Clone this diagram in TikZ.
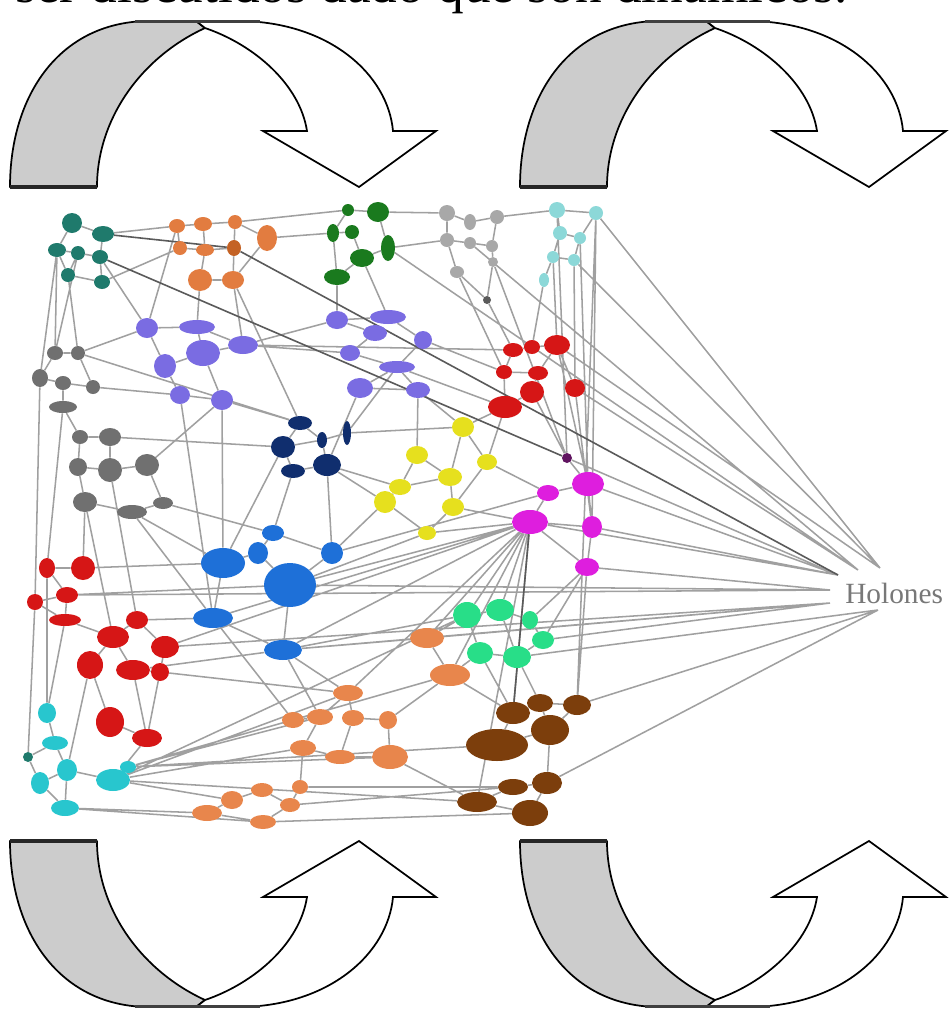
\documentclass[tikz,border=0pt]{standalone}
\usepackage{fontspec}
\setmainfont{Liberation Serif}
\usetikzlibrary{shapes.geometric}

% cluster colours
\definecolor{ctealdark}{RGB}{31,122,108}
\definecolor{corangeA}{RGB}{226,124,64}
\definecolor{corangeD}{RGB}{196,98,36}
\definecolor{cpurple}{RGB}{122,108,226}
\definecolor{cgreydark}{RGB}{112,112,112}
\definecolor{cnavy}{RGB}{16,46,110}
\definecolor{cgreendark}{RGB}{26,122,30}
\definecolor{cgreylight}{RGB}{168,168,168}
\definecolor{ccyanlight}{RGB}{140,216,216}
\definecolor{cred}{RGB}{214,22,22}
\definecolor{cyellow}{RGB}{230,224,30}
\definecolor{cmagenta}{RGB}{222,30,222}
\definecolor{cmagdark}{RGB}{96,20,96}
\definecolor{cblue}{RGB}{30,112,216}
\definecolor{ccyan}{RGB}{40,198,206}
\definecolor{corangeB}{RGB}{232,134,76}
\definecolor{cgreenbright}{RGB}{40,222,136}
\definecolor{cbrown}{RGB}{124,62,12}
\definecolor{cedge}{RGB}{160,160,160}
\definecolor{cedgedark}{RGB}{90,90,90}
\definecolor{cband}{RGB}{204,204,204}
\definecolor{clabel}{RGB}{120,120,120}

\pgfdeclarelayer{paper}
\pgfdeclarelayer{links}
\pgfsetlayers{paper,links,main}

\tikzset{
  v/.style n args={2}{ellipse, inner sep=0pt, draw=none,
    minimum width=#1*0.75pt, minimum height=#2*0.75pt},
  tl/.style={fill=ctealdark},
  oa/.style={fill=corangeA},
  od/.style={fill=corangeD},
  pu/.style={fill=cpurple},
  gd/.style={fill=cgreydark},
  nv/.style={fill=cnavy},
  gn/.style={fill=cgreendark},
  gl/.style={fill=cgreylight},
  cl/.style={fill=ccyanlight},
  rd/.style={fill=cred},
  ye/.style={fill=cyellow},
  mg/.style={fill=cmagenta},
  bl/.style={fill=cblue},
  cy/.style={fill=ccyan},
  ob/.style={fill=corangeB},
  gb/.style={fill=cgreenbright},
  bw/.style={fill=cbrown},
  ed/.style={draw=cedge, line width=1.15pt},
  eddark/.style={draw=cedgedark, line width=1.2pt},
  band/.style={fill=cband, draw=black, line width=1.3pt, line join=round},
  face/.style={fill=white, draw=black, line width=1.3pt, line join=miter},
}

\begin{document}
\begin{tikzpicture}[x=0.75pt, y=-0.75pt]
\useasboundingbox (0,0) rectangle (952,1011);
\clip (0,0) rectangle (952,1011);
\begin{pgfonlayer}{paper}
  \fill[white] (0,0) rectangle (952,1011);
\end{pgfonlayer}

% caption line running off the top edge
\node[anchor=base west, inner sep=0pt, font=\fontsize{40}{44}\selectfont] (caption) at (15,2) {ser discutidos dado que son dinámicos.};

% ---------- turning arrows ----------
\foreach \dx/\flip in {0/0, 510/0, 0/1, 510/1} {
  \begin{scope}[shift={(\dx,\flip*1028)}, yscale={1-2*\flip}]
    \path[band] (10,187) .. controls (10,95) and (60,21) .. (150,21)
      -- (196,21) -- (205,28) .. controls (140,58) and (97,120) .. (97,187) -- cycle;
    \path[face] (196,21) -- (240,21) .. controls (330,22) and (388,75) .. (393,131)
      -- (436,131) -- (359,187) -- (263,131) -- (307,131)
      .. controls (300,85) and (255,45) .. (205,28) -- cycle;
    \draw[line width=2.6pt, draw=black!85] (10,187) -- (97,187);
    \draw[line width=2.2pt, draw=black!75] (135,21.5) -- (260,21.5);
  \end{scope}
}

% ---------- network nodes ----------
% teal
\node[tl,v={20}{20}] (t1) at (72,223) {};
\node[tl,v={22}{16}] (t2) at (103,234) {};
\node[tl,v={18}{14}] (t3) at (57,250) {};
\node[tl,v={14}{14}] (t4) at (78,253) {};
\node[tl,v={16}{14}] (t5) at (100,257) {};
\node[tl,v={14}{14}] (t6) at (68,275) {};
\node[tl,v={16}{14}] (t7) at (102,282) {};
% orange, top
\node[oa,v={16}{14}] (o1) at (177,226) {};
\node[oa,v={18}{14}] (o2) at (203,224) {};
\node[oa,v={14}{14}] (o3) at (235,222) {};
\node[oa,v={20}{26}] (o4) at (267,238) {};
\node[oa,v={14}{14}] (o5) at (180,248) {};
\node[oa,v={18}{12}] (o6) at (205,250) {};
\node[od,v={14}{16}] (o7) at (234,248) {};
\node[oa,v={24}{22}] (o8) at (200,280) {};
\node[oa,v={22}{18}] (o9) at (233,280) {};
% purple
\node[pu,v={22}{20}] (p1) at (147,328) {};
\node[pu,v={36}{14}] (p2) at (197,327) {};
\node[pu,v={34}{26}] (p3) at (203,353) {};
\node[pu,v={30}{18}] (p4) at (243,345) {};
\node[pu,v={22}{24}] (p5) at (165,366) {};
\node[pu,v={20}{18}] (p6) at (180,395) {};
\node[pu,v={22}{20}] (p7) at (222,400) {};
\node[pu,v={22}{18}] (p8) at (337,320) {};
\node[pu,v={36}{14}] (p9) at (388,317) {};
\node[pu,v={24}{16}] (p10) at (375,333) {};
\node[pu,v={18}{18}] (p11) at (423,340) {};
\node[pu,v={20}{16}] (p12) at (350,353) {};
\node[pu,v={36}{12}] (p13) at (397,367) {};
\node[pu,v={26}{20}] (p14) at (360,388) {};
\node[pu,v={24}{16}] (p15) at (418,390) {};
% dark grey
\node[gd,v={16}{14}] (g1) at (55,353) {};
\node[gd,v={14}{14}] (g2) at (78,353) {};
\node[gd,v={16}{18}] (g3) at (40,378) {};
\node[gd,v={16}{14}] (g4) at (63,383) {};
\node[gd,v={14}{14}] (g5) at (93,387) {};
\node[gd,v={28}{12}] (g6) at (63,407) {};
\node[gd,v={16}{14}] (g7) at (80,437) {};
\node[gd,v={22}{18}] (g8) at (110,437) {};
\node[gd,v={18}{18}] (g9) at (78,467) {};
\node[gd,v={24}{24}] (g10) at (110,470) {};
\node[gd,v={24}{22}] (g11) at (147,465) {};
\node[gd,v={24}{20}] (g12) at (85,502) {};
\node[gd,v={30}{14}] (g13) at (132,512) {};
\node[gd,v={20}{12}] (g14) at (163,503) {};
% navy
\node[nv,v={24}{14}] (n1) at (300,423) {};
\node[nv,v={24}{22}] (n2) at (283,447) {};
\node[nv,v={24}{14}] (n3) at (293,471) {};
\node[nv,v={28}{22}] (n4) at (327,465) {};
\node[nv,v={8}{24}] (n5) at (347,433) {};
\node[nv,v={10}{16}] (n6) at (322,440) {};
% dark green
\node[gn,v={12}{12}] (dg1) at (348,210) {};
\node[gn,v={22}{20}] (dg2) at (378,212) {};
\node[gn,v={12}{18}] (dg3) at (333,233) {};
\node[gn,v={14}{14}] (dg4) at (352,232) {};
\node[gn,v={14}{26}] (dg5) at (388,248) {};
\node[gn,v={24}{18}] (dg6) at (362,258) {};
\node[gn,v={26}{16}] (dg7) at (337,277) {};
% light grey
\node[gl,v={16}{16}] (lg1) at (447,213) {};
\node[gl,v={12}{16}] (lg2) at (470,222) {};
\node[gl,v={14}{14}] (lg3) at (497,217) {};
\node[gl,v={14}{14}] (lg4) at (447,240) {};
\node[gl,v={12}{12}] (lg5) at (470,243) {};
\node[gl,v={12}{12}] (lg6) at (492,246) {};
\node[gl,v={10}{10}] (lg7) at (493,262) {};
\node[gl,v={14}{12}] (lg8) at (457,272) {};
\node[fill=cedgedark,v={8}{8}] (lg9) at (487,300) {};
% light cyan
\node[cl,v={16}{16}] (lc1) at (557,210) {};
\node[cl,v={14}{14}] (lc2) at (596,213) {};
\node[cl,v={14}{14}] (lc3) at (560,233) {};
\node[cl,v={12}{12}] (lc4) at (580,238) {};
\node[cl,v={12}{12}] (lc5) at (553,257) {};
\node[cl,v={12}{12}] (lc6) at (574,260) {};
\node[cl,v={10}{14}] (lc7) at (544,280) {};
% red, upper right
\node[rd,v={20}{14}] (r1) at (513,350) {};
\node[rd,v={16}{14}] (r2) at (532,347) {};
\node[rd,v={26}{20}] (r3) at (557,345) {};
\node[rd,v={16}{14}] (r4) at (504,372) {};
\node[rd,v={20}{14}] (r5) at (538,373) {};
\node[rd,v={20}{18}] (r6) at (575,388) {};
\node[rd,v={24}{22}] (r7) at (532,392) {};
\node[rd,v={34}{22}] (r8) at (505,407) {};
% yellow
\node[ye,v={22}{20}] (y1) at (463,427) {};
\node[ye,v={22}{18}] (y2) at (417,455) {};
\node[ye,v={20}{16}] (y3) at (487,462) {};
\node[ye,v={24}{18}] (y4) at (450,477) {};
\node[ye,v={22}{16}] (y5) at (400,487) {};
\node[ye,v={22}{22}] (y6) at (385,502) {};
\node[ye,v={22}{18}] (y7) at (453,507) {};
\node[ye,v={18}{14}] (y8) at (427,533) {};
% magenta
\node[fill=cmagdark,v={10}{10}] (m1) at (567,458) {};
\node[mg,v={32}{24}] (m2) at (588,484) {};
\node[mg,v={22}{16}] (m3) at (548,493) {};
\node[mg,v={36}{24}] (m4) at (530,522) {};
\node[mg,v={20}{22}] (m5) at (592,527) {};
\node[mg,v={24}{18}] (m6) at (587,567) {};
% blue
\node[bl,v={22}{16}] (b1) at (273,533) {};
\node[bl,v={20}{22}] (b2) at (258,553) {};
\node[bl,v={44}{30}] (b3) at (223,563) {};
\node[bl,v={52}{44}] (b4) at (290,585) {};
\node[bl,v={22}{22}] (b5) at (332,553) {};
\node[bl,v={40}{20}] (b6) at (213,618) {};
\node[bl,v={38}{20}] (b7) at (283,650) {};
% red, lower left
\node[rd,v={16}{20}] (rr1) at (47,568) {};
\node[rd,v={24}{24}] (rr2) at (83,568) {};
\node[rd,v={22}{16}] (rr3) at (67,595) {};
\node[rd,v={16}{16}] (rr4) at (35,602) {};
\node[rd,v={32}{12}] (rr5) at (65,620) {};
\node[rd,v={22}{18}] (rr6) at (137,620) {};
\node[rd,v={32}{22}] (rr7) at (113,637) {};
\node[rd,v={28}{22}] (rr8) at (165,647) {};
\node[rd,v={26}{28}] (rr9) at (90,665) {};
\node[rd,v={34}{20}] (rr10) at (133,670) {};
\node[rd,v={18}{18}] (rr11) at (160,672) {};
\node[rd,v={28}{30}] (rr12) at (110,722) {};
\node[rd,v={30}{18}] (rr13) at (147,738) {};
% cyan
\node[cy,v={18}{20}] (c1) at (47,713) {};
\node[cy,v={26}{14}] (c2) at (55,743) {};
\node[fill=ctealdark,v={10}{10}] (c3) at (28,757) {};
\node[cy,v={20}{22}] (c4) at (67,770) {};
\node[cy,v={18}{22}] (c5) at (40,783) {};
\node[cy,v={34}{22}] (c6) at (113,780) {};
\node[cy,v={16}{12}] (c7) at (128,767) {};
\node[cy,v={28}{16}] (c8) at (65,808) {};
% orange, lower
\node[ob,v={30}{16}] (ob1) at (348,693) {};
\node[ob,v={26}{16}] (ob2) at (320,717) {};
\node[ob,v={22}{16}] (ob3) at (353,718) {};
\node[ob,v={18}{18}] (ob4) at (388,720) {};
\node[ob,v={26}{16}] (ob5) at (303,748) {};
\node[ob,v={30}{14}] (ob6) at (340,757) {};
\node[ob,v={36}{24}] (ob7) at (390,757) {};
\node[ob,v={34}{20}] (ob8) at (427,638) {};
\node[ob,v={40}{22}] (ob9) at (450,675) {};
\node[ob,v={16}{14}] (ob10) at (300,787) {};
\node[ob,v={22}{16}] (ob11) at (293,720) {};
\node[ob,v={22}{14}] (ob12) at (262,790) {};
\node[ob,v={20}{14}] (ob13) at (290,805) {};
\node[ob,v={22}{18}] (ob14) at (232,800) {};
\node[ob,v={30}{16}] (ob15) at (207,813) {};
\node[ob,v={26}{14}] (ob16) at (263,822) {};
% bright green
\node[gb,v={28}{26}] (gb1) at (467,615) {};
\node[gb,v={28}{22}] (gb2) at (500,610) {};
\node[gb,v={16}{18}] (gb3) at (530,620) {};
\node[gb,v={22}{18}] (gb4) at (543,640) {};
\node[gb,v={26}{22}] (gb5) at (480,653) {};
\node[gb,v={28}{22}] (gb6) at (517,657) {};
% brown
\node[bw,v={34}{22}] (br1) at (513,713) {};
\node[bw,v={26}{18}] (br2) at (540,703) {};
\node[bw,v={28}{20}] (br3) at (577,705) {};
\node[bw,v={62}{32}] (br4) at (497,745) {};
\node[bw,v={38}{30}] (br5) at (550,730) {};
\node[bw,v={30}{22}] (br6) at (547,783) {};
\node[bw,v={30}{16}] (br7) at (513,787) {};
\node[bw,v={40}{20}] (br8) at (477,802) {};
\node[bw,v={36}{26}] (br9) at (530,813) {};

% Holones label and the ends of its links
\node[anchor=west, inner sep=0pt, text=clabel, font=\fontsize{22}{24}\selectfont] (hol) at (845,593) {Holones};
\coordinate (h1) at (880,568);
\coordinate (h2) at (858,570);
\coordinate (h3) at (838,575);
\coordinate (h4) at (830,590);
\coordinate (h5) at (830,603);
\coordinate (h6) at (878,610);

% ---------- links ----------
\begin{pgfonlayer}{links}
\draw[ed]
  % teal
  (t1)--(t2) (t1)--(t3) (t2)--(t5) (t3)--(t4) (t4)--(t5) (t4)--(t6) (t5)--(t7) (t6)--(t7) (t3)--(t6)
  (t2)--(o1) (t5)--(p1) (t3)--(g1) (t6)--(g2) (t7)--(o5) (t3)--(g3) (t4)--(g1)
  % orange top
  (o1)--(o2) (o2)--(o3) (o3)--(o4) (o1)--(o5) (o2)--(o6) (o3)--(o7) (o5)--(o6) (o6)--(o7)
  (o7)--(o9) (o8)--(o9) (o6)--(o8) (o4)--(o9)
  (o4)--(dg3) (o3)--(dg1) (o8)--(p2) (o9)--(p4) (o1)--(p1) (o9)--(n1)
  % purple
  (p1)--(p2) (p2)--(p3) (p3)--(p4) (p3)--(p5) (p5)--(p6) (p6)--(p7) (p3)--(p7) (p1)--(p5) (p2)--(p4)
  (p8)--(p9) (p8)--(p10) (p9)--(p11) (p10)--(p12) (p12)--(p13) (p13)--(p14) (p14)--(p15)
  (p11)--(p13) (p13)--(p15)
  (p4)--(p8) (p7)--(n1) (p6)--(b6) (p7)--(b3) (p15)--(y2) (p14)--(n4) (p8)--(dg7)
  (p11)--(r4) (p13)--(r8) (p15)--(y1) (p1)--(g2) (p4)--(p12) (p4)--(r1)
  % dark grey
  (g1)--(g2) (g1)--(g3) (g2)--(g5) (g3)--(g4) (g4)--(g5) (g4)--(g6) (g6)--(g7) (g7)--(g8)
  (g7)--(g9) (g8)--(g10) (g9)--(g10) (g10)--(g11) (g9)--(g12) (g12)--(g13) (g13)--(g14) (g11)--(g14)
  (g5)--(p6) (g2)--(n1) (g8)--(n2) (g12)--(rr2) (g13)--(b3) (g14)--(b1) (g11)--(p7)
  (g6)--(rr1) (g3)--(rr4) (g10)--(rr6) (g12)--(rr7)
  % navy
  (n1)--(n6) (n6)--(n5) (n2)--(n6) (n2)--(n3) (n3)--(n4) (n4)--(n6) (n1)--(n2)
  (n4)--(y5) (n3)--(b1) (n5)--(p13) (n4)--(b5) (n2)--(b3)
  % dark green
  (dg1)--(dg2) (dg1)--(dg3) (dg3)--(dg4) (dg2)--(dg5) (dg4)--(dg6) (dg5)--(dg6) (dg6)--(dg7) (dg3)--(dg7)
  (dg2)--(lg1) (dg7)--(p8) (dg5)--(lg4) (dg6)--(p9)
  % light grey
  (lg1)--(lg2) (lg2)--(lg3) (lg1)--(lg4) (lg4)--(lg5) (lg5)--(lg6) (lg3)--(lg6) (lg6)--(lg7)
  (lg7)--(lg9) (lg8)--(lg9) (lg4)--(lg8)
  (lg3)--(lc1) (lg9)--(r1) (lg8)--(r4) (lg7)--(m1)
  % light cyan
  (lc1)--(lc3) (lc1)--(lc2) (lc3)--(lc4) (lc2)--(lc4) (lc3)--(lc5) (lc4)--(lc6) (lc5)--(lc6) (lc5)--(lc7)
  (lc2)--(m5) (lc2)--(br3) (lc7)--(r2) (lc4)--(m2) (lc6)--(r6) (lc5)--(r3) (lc1)--(m1)
  % red, upper right
  (r1)--(r2) (r2)--(r3) (r1)--(r4) (r4)--(r5) (r5)--(r7) (r7)--(r8) (r3)--(r6) (r5)--(r3) (r4)--(r8)
  (r8)--(y1) (r7)--(m1) (r3)--(m2) (r8)--(y3) (r6)--(m5)
  % yellow
  (y1)--(y3) (y1)--(y4) (y2)--(y4) (y2)--(y5) (y4)--(y7) (y5)--(y6) (y6)--(y8) (y7)--(y8) (y3)--(y7) (y4)--(y5)
  (y6)--(b5) (y8)--(b4) (y7)--(m4) (y3)--(m3) (y1)--(n5) (y6)--(n4)
  % magenta
  (m1)--(m2) (m2)--(m3) (m3)--(m4) (m2)--(m5) (m4)--(m5) (m5)--(m6) (m4)--(m6)
  (m4)--(b4) (m4)--(b7) (m4)--(ob8) (m4)--(gb1) (m4)--(gb2) (m4)--(br1) (m4)--(rr8)
  (m4)--(ob1) (m6)--(br3) (m6)--(gb4) (m4)--(ob9) (m3)--(b5) (m4)--(y8) (m4)--(b6)
  % blue
  (b1)--(b2) (b2)--(b3) (b2)--(b4) (b3)--(b6) (b4)--(b7) (b6)--(b7) (b1)--(b5) (b4)--(b5)
  (b7)--(rr10) (b7)--(ob2) (b6)--(rr6) (b3)--(rr2) (b7)--(ob8) (b6)--(g13) (b4)--(rr3)
  % red, lower left
  (rr1)--(rr2) (rr1)--(rr3) (rr3)--(rr4) (rr3)--(rr5) (rr4)--(rr5) (rr5)--(rr7) (rr6)--(rr7)
  (rr6)--(rr8) (rr7)--(rr9) (rr7)--(rr10) (rr10)--(rr11) (rr8)--(rr11) (rr9)--(rr12)
  (rr10)--(rr13) (rr11)--(rr13) (rr12)--(rr13)
  (rr1)--(c1) (rr13)--(c6) (rr9)--(c4) (rr11)--(ob1) (rr5)--(c1) (rr4)--(c3)
  % cyan
  (c1)--(c2) (c2)--(c3) (c2)--(c4) (c3)--(c5) (c4)--(c5) (c4)--(c6) (c6)--(c7) (c5)--(c8) (c4)--(c8)
  (c6)--(ob5) (c6)--(ob1) (c7)--(ob2) (c6)--(ob14) (c8)--(ob15) (c6)--(gb1) (c7)--(ob9)
  (c6)--(br8) (c8)--(ob16) (c7)--(ob7) (c7)--(br4)
  % orange, lower
  (ob1)--(ob2) (ob1)--(ob3) (ob3)--(ob4) (ob2)--(ob11) (ob2)--(ob5) (ob5)--(ob6) (ob6)--(ob7)
  (ob4)--(ob7) (ob3)--(ob6) (ob5)--(ob10) (ob10)--(ob13) (ob12)--(ob13) (ob12)--(ob14)
  (ob14)--(ob15) (ob15)--(ob16) (ob13)--(ob16) (ob8)--(ob9) (ob9)--(ob4)
  (ob9)--(br1) (ob7)--(br8) (ob16)--(br9) (ob13)--(br7) (ob1)--(b7) (ob8)--(gb1)
  (ob9)--(gb5) (ob11)--(b6) (ob10)--(br7)
  % bright green
  (gb1)--(gb2) (gb2)--(gb3) (gb3)--(gb4) (gb1)--(gb5) (gb5)--(gb6) (gb6)--(gb4) (gb2)--(gb6)
  (gb5)--(br1) (gb6)--(br2) (gb1)--(b7) (gb3)--(m6)
  % brown
  (br1)--(br2) (br2)--(br3) (br1)--(br4) (br2)--(br5) (br4)--(br5) (br5)--(br6) (br6)--(br7)
  (br7)--(br8) (br8)--(br9) (br6)--(br9) (br3)--(br5) (m4)--(br8)
  % to the holons label
  (lc6)--(h1) (lc2)--(h1) (lg5)--(h2) (r6)--(h2) (dg5)--(h2) (m1)--(h3) (r3)--(h1)
  (m2)--(h3) (m5)--(h3) (m4)--(h3) (m6)--(h4) (b4)--(h4) (rr3)--(h4)
  (rr8)--(h5) (b7)--(h5) (gb4)--(h5) (ob8)--(h5)
  (h6)--(br3) (h6)--(br6) (h6)--(gb6);
\draw[eddark]
  (o7)--(h3) (t5)--(m1) (m4)--(br1) (t2)--(o7);
\end{pgfonlayer}
\end{tikzpicture}
\end{document}
